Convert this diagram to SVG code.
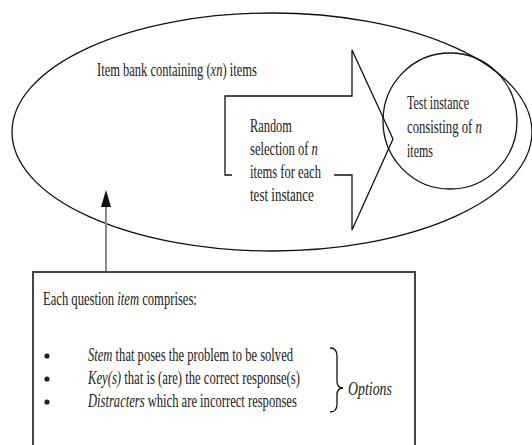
<svg xmlns="http://www.w3.org/2000/svg" width="532" height="445" viewBox="0 0 532 445">
<style>
  .t { font-family: "Liberation Serif", "Times New Roman", serif; font-size: 19px; fill: #222; }
  .i { font-style: italic; }
  .line { fill: none; stroke: #111; stroke-width: 1.3; }
</style>
<defs>
  <marker id="ah" markerWidth="17" markerHeight="10" refX="0" refY="5" orient="auto" markerUnits="userSpaceOnUse" viewBox="0 0 17 10">
    <path d="M0,0 L17,5 L0,10 Z" fill="#111"/>
  </marker>
</defs>
<rect width="532" height="445" fill="#fff"/>

<g id="item-bank">
  <ellipse cx="272" cy="132" rx="260" ry="119" class="line"/>
  <text class="t" transform="translate(97,76) scale(0.659,1)">Item bank containing (<tspan class="i">xn</tspan>) items</text>
</g>

<g id="random-selection">
  <path class="line" d="M232,175 L225,175 L225,96 L352,96 L352,50 L393,139 L352,230 L352,175 L334,175"/>
  <text class="t" transform="translate(250,132) scale(0.652,1)">Random</text>
  <text class="t" transform="translate(250,155) scale(0.664,1)">selection of <tspan class="i">n</tspan></text>
  <text class="t" transform="translate(250,178) scale(0.660,1)">items for each</text>
  <text class="t" transform="translate(250,201) scale(0.685,1)">test instance</text>
</g>

<g id="test-instance">
  <ellipse cx="450" cy="121" rx="67" ry="68" class="line"/>
  <text class="t" transform="translate(407,109) scale(0.632,1)">Test instance</text>
  <text class="t" transform="translate(407,133) scale(0.670,1)">consisting of <tspan class="i">n</tspan></text>
  <text class="t" transform="translate(407,157) scale(0.631,1)">items</text>
</g>

<g id="connectors">
  <line x1="106" y1="272" x2="106" y2="207" stroke="#8a8a8a" stroke-width="2" marker-end="url(#ah)"/>
</g>

<g id="question-item">
  <rect x="33" y="272" width="382" height="190" fill="none" stroke="#444" stroke-width="2"/>
  <text class="t" transform="translate(43,305) scale(0.665,1)">Each question <tspan class="i">item</tspan> comprises:</text>
  <circle cx="47" cy="356" r="2.6" fill="#222"/>
  <circle cx="47" cy="379" r="2.6" fill="#222"/>
  <circle cx="47" cy="402" r="2.6" fill="#222"/>
  <text class="t" transform="translate(88,361) scale(0.662,1)"><tspan class="i">Stem</tspan> that poses the problem to be solved</text>
  <text class="t" transform="translate(88,384) scale(0.668,1)"><tspan class="i">Key(s)</tspan> that is (are) the correct response(s)</text>
  <text class="t" transform="translate(88,407) scale(0.662,1)"><tspan class="i">Distracters</tspan> which are incorrect responses</text>
  <path class="line" d="M330,348 Q337,348 337,356 L337,381 Q337,388 343,388 Q337,388 337,395 L337,404 Q337,412 330,412"/>
  <text class="t i" transform="translate(348,395) scale(0.73,1)">Options</text>
</g>
</svg>
